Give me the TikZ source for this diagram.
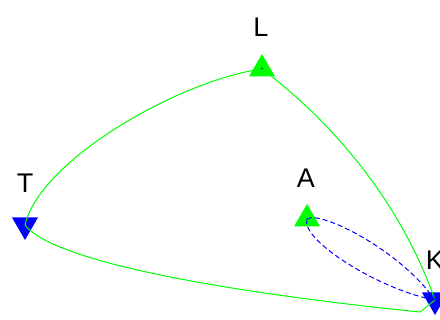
\documentclass[tikz,border=0pt]{standalone}
\usepackage{fontspec}
\setmainfont{Liberation Sans}
\usetikzlibrary{shapes.geometric}
\begin{document}
\begin{tikzpicture}[x=1pt, y=-1pt,
  up/.style={regular polygon, regular polygon sides=3, fill=#1, inner sep=0pt, minimum size=30pt},
  down/.style={up=#1, shape border rotate=180},
  lbl/.style={font=\fontsize{27}{30}\selectfont},
  link/.style={draw=green, line width=1pt},
  dashlink/.style={draw=blue, line width=1pt, dash pattern=on 5pt off 3pt}
]
\useasboundingbox (0,0) rectangle (440,320);
% points
\node[up=green] (L) at (262,69) {};
\node[down=blue] (T) at (25,225) {};
\node[up=green] (A) at (307,219) {};
\node[down=blue] (K) at (435,300) {};
\fill[blue!60!black] (L.center) circle (1.5pt);
% labels
\node[lbl] (lL) at (261,27) {L};
\node[lbl] (lT) at (25,183) {T};
\node[lbl] (lA) at (306,178) {A};
\node[lbl] (lK) at (435,260) {K};
% links
\draw[link] (L.center) .. controls (180,80) and (40,160) .. (T.center);
\draw[link] (L.center) .. controls (330,120) and (400,200) .. (K.center);
\draw[link] (T.center) .. controls (60,270) and (300,300) .. (420,312) -- (K.center);
\draw[dashlink] (A.center) .. controls (320,210) and (400,250) .. (K.center);
\draw[dashlink] (A.center) .. controls (300,240) and (380,290) .. (K.center);
\end{tikzpicture}
\end{document}
